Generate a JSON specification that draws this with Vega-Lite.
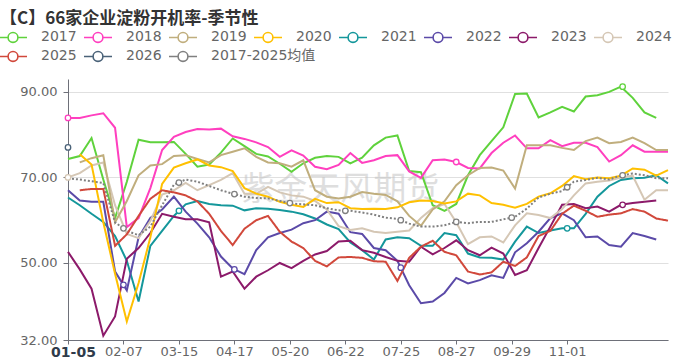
{
  "$schema": "https://vega.github.io/schema/vega-lite/v6.json",
  "width": 600,
  "height": 261,
  "autosize": {"type": "none"},
  "padding": {"left": 68, "top": 79, "right": 25, "bottom": 19},
  "background": "white",
  "title": {
    "text": "【C】66家企业淀粉开机率-季节性",
    "anchor": "start",
    "frame": "group",
    "orient": "top",
    "dx": -68,
    "dy": 18,
    "offset": 11,
    "baseline": "middle",
    "font": "Noto Sans CJK SC",
    "fontSize": 17,
    "fontWeight": "bold",
    "color": "#333333"
  },
  "datasets": {
    "weekly": [
      {"day": 0, "2017": 74.3, "2018": 83.9, "2021": 65.3, "2022": 67.0, "2023": 52.6, "2024": 70.0, "2026": 77.0, "2017-2025均值": 69.8},
      {"day": 7, "2017": 75.0, "2018": 83.9, "2019": 73.5, "2020": 75.4, "2021": 63.5, "2022": 64.6, "2023": 48.5, "2024": 71.0, "2025": 67.0, "2017-2025均值": 69.5},
      {"day": 14, "2017": 79.2, "2018": 84.5, "2019": 74.5, "2020": 73.0, "2021": 61.5, "2022": 64.3, "2023": 44.0, "2024": 72.8, "2025": 67.3, "2017-2025均值": 69.1},
      {"day": 21, "2017": 69.5, "2018": 85.0, "2019": 75.2, "2020": 59.5, "2021": 59.6, "2022": 64.3, "2023": 33.0, "2024": 73.5, "2025": 67.3, "2017-2025均值": 68.7},
      {"day": 28, "2017": 60.5, "2018": 81.6, "2019": 59.5, "2020": 47.5, "2021": 56.3, "2022": 48.0, "2023": 37.5, "2024": 63.5, "2025": 54.0, "2017-2025均值": 59.5},
      {"day": 35, "2017": 69.0, "2018": 58.4, "2019": 64.5, "2020": 36.3, "2021": 50.5, "2022": 43.6, "2023": 51.0, "2024": 56.8, "2025": 56.7, "2017-2025均值": 57.5},
      {"day": 42, "2017": 78.8, "2018": 60.5, "2019": 70.5, "2020": 45.3, "2021": 41.0, "2022": 56.0, "2023": 53.5, "2024": 55.8, "2025": 61.0, "2017-2025均值": 56.5},
      {"day": 49, "2017": 78.2, "2018": 67.5, "2019": 72.8, "2020": 56.0, "2021": 54.0, "2022": 60.5, "2023": 57.0, "2024": 59.8, "2025": 65.0, "2017-2025均值": 58.5},
      {"day": 56, "2017": 78.2, "2018": 76.4, "2019": 73.1, "2020": 68.5, "2021": 57.5, "2022": 62.5, "2023": 61.5, "2024": 66.0, "2025": 67.0, "2017-2025均值": 63.5},
      {"day": 63, "2017": 78.3, "2018": 79.5, "2019": 75.0, "2020": 72.3, "2021": 61.0, "2022": 65.5, "2023": 60.8, "2024": 67.0, "2025": 66.5, "2017-2025均值": 68.3},
      {"day": 70, "2017": 75.5, "2018": 80.6, "2019": 75.2, "2020": 73.3, "2021": 63.7, "2022": 62.0, "2023": 60.2, "2024": 68.7, "2025": 65.8, "2017-2025均值": 69.5},
      {"day": 77, "2017": 72.5, "2018": 81.3, "2019": 74.3, "2020": 74.2, "2021": 64.5, "2022": 59.2, "2023": 60.2, "2024": 67.0, "2025": 64.4, "2017-2025均值": 69.0},
      {"day": 84, "2017": 73.0, "2018": 81.2, "2019": 73.5, "2020": 72.8, "2021": 63.8, "2022": 56.0, "2023": 59.5, "2024": 68.2, "2025": 61.5, "2017-2025均值": 68.0},
      {"day": 91, "2017": 75.8, "2018": 81.4, "2019": 75.2, "2020": 72.4, "2021": 63.5, "2022": 51.5, "2023": 46.8, "2024": 69.4, "2025": 57.5, "2017-2025均值": 67.0},
      {"day": 98, "2017": 79.1, "2018": 79.6, "2019": 76.0, "2020": 71.5, "2021": 63.4, "2022": 48.7, "2023": 48.0, "2024": 71.0, "2025": 54.2, "2017-2025均值": 66.2},
      {"day": 105, "2017": 77.3, "2018": 79.0, "2019": 76.8, "2020": 67.5, "2021": 62.3, "2022": 47.4, "2023": 44.0, "2024": 66.2, "2025": 58.0, "2017-2025均值": 65.5},
      {"day": 112, "2017": 75.5, "2018": 78.2, "2019": 74.8, "2020": 66.2, "2021": 62.8, "2022": 53.0, "2023": 46.8, "2024": 66.2, "2025": 60.0, "2017-2025均值": 65.2},
      {"day": 119, "2017": 74.9, "2018": 77.1, "2019": 73.5, "2020": 65.5, "2021": 62.7, "2022": 56.0, "2023": 48.3, "2024": 67.8, "2025": 61.0, "2017-2025均值": 65.1},
      {"day": 126, "2017": 73.2, "2018": 74.8, "2019": 73.3, "2020": 64.3, "2021": 62.4, "2022": 57.0, "2023": 50.0, "2024": 66.5, "2025": 57.3, "2017-2025均值": 64.5},
      {"day": 133, "2017": 71.3, "2018": 76.3, "2019": 72.5, "2020": 63.6, "2021": 62.0, "2022": 57.8, "2023": 48.8, "2024": 65.8, "2025": 55.0, "2017-2025均值": 63.9},
      {"day": 140, "2017": 73.3, "2018": 75.1, "2019": 74.0, "2020": 63.1, "2021": 61.4, "2022": 59.3, "2023": 50.5, "2024": 65.5, "2025": 53.5, "2017-2025均值": 63.7},
      {"day": 147, "2017": 74.6, "2018": 72.5, "2019": 67.0, "2020": 65.0, "2021": 60.4, "2022": 60.0, "2023": 52.0, "2024": 64.5, "2025": 50.5, "2017-2025均值": 63.5},
      {"day": 154, "2017": 75.0, "2018": 71.9, "2019": 65.5, "2020": 64.0, "2021": 59.0, "2022": 62.0, "2023": 52.8, "2024": 62.5, "2025": 49.2, "2017-2025均值": 62.8},
      {"day": 161, "2017": 74.8, "2018": 72.9, "2019": 65.1, "2020": 64.2, "2021": 57.9, "2022": 61.5, "2023": 55.0, "2024": 58.6, "2025": 51.3, "2017-2025均值": 62.3},
      {"day": 168, "2017": 73.3, "2018": 75.7, "2019": 65.5, "2020": 62.8, "2021": 54.8, "2022": 57.2, "2023": 55.2, "2024": 57.7, "2025": 51.4, "2017-2025均值": 62.2},
      {"day": 175, "2017": 74.6, "2018": 73.4, "2019": 66.6, "2020": 62.6, "2021": 53.0, "2022": 56.8, "2023": 53.0, "2024": 58.1, "2025": 51.2, "2017-2025均值": 61.8},
      {"day": 182, "2017": 77.5, "2018": 74.0, "2019": 66.2, "2020": 62.7, "2021": 50.8, "2022": 53.5, "2023": 52.4, "2024": 57.3, "2025": 50.4, "2017-2025均值": 61.3},
      {"day": 189, "2017": 79.3, "2018": 75.0, "2019": 65.9, "2020": 62.6, "2021": 55.5, "2022": 53.0, "2023": 51.4, "2024": 57.0, "2025": 50.3, "2017-2025均值": 60.6},
      {"day": 196, "2017": 79.8, "2018": 75.2, "2019": 64.4, "2020": 63.0, "2021": 56.0, "2022": 50.5, "2023": 50.5, "2024": 57.3, "2025": 45.8, "2017-2025均值": 60.3},
      {"day": 203, "2017": 71.5, "2018": 71.4, "2019": 61.0, "2020": 64.2, "2021": 55.8, "2022": 44.8, "2023": 50.3, "2024": 57.6, "2025": 51.2, "2017-2025均值": 59.2},
      {"day": 210, "2017": 71.2, "2018": 69.9, "2019": 58.7, "2020": 64.6, "2021": 54.0, "2022": 40.6, "2023": 53.8, "2024": 60.5, "2025": 53.8, "2017-2025均值": 58.5},
      {"day": 217, "2017": 63.5, "2018": 74.0, "2019": 62.5, "2020": 64.5, "2021": 54.0, "2022": 41.0, "2023": 52.0, "2024": 62.8, "2025": 55.2, "2017-2025均值": 58.5},
      {"day": 224, "2017": 62.2, "2018": 74.2, "2019": 64.4, "2020": 63.9, "2021": 57.0, "2022": 43.0, "2023": 53.5, "2024": 63.8, "2025": 52.6, "2017-2025均值": 58.8},
      {"day": 231, "2017": 63.8, "2018": 73.6, "2019": 68.2, "2020": 64.4, "2021": 56.5, "2022": 46.5, "2023": 55.3, "2024": 59.5, "2025": 51.8, "2017-2025均值": 59.6},
      {"day": 238, "2017": 70.5, "2018": 72.2, "2019": 70.5, "2020": 66.2, "2021": 52.2, "2022": 45.2, "2023": 53.0, "2024": 54.4, "2025": 48.0, "2017-2025均值": 59.3},
      {"day": 245, "2017": 75.2, "2018": 72.1, "2019": 72.2, "2020": 65.8, "2021": 51.3, "2022": 46.0, "2023": 51.8, "2024": 56.0, "2025": 47.3, "2017-2025均值": 59.6},
      {"day": 252, "2017": 78.5, "2018": 75.7, "2019": 72.3, "2020": 64.0, "2021": 51.2, "2022": 47.1, "2023": 53.6, "2024": 56.2, "2025": 47.8, "2017-2025均值": 59.6},
      {"day": 259, "2017": 81.7, "2018": 78.1, "2019": 71.6, "2020": 63.6, "2021": 50.8, "2022": 46.5, "2023": 52.2, "2024": 54.8, "2025": 50.3, "2017-2025均值": 60.2},
      {"day": 266, "2017": 89.5, "2018": 79.8, "2019": 67.4, "2020": 62.9, "2021": 55.0, "2022": 52.5, "2023": 47.2, "2024": 58.8, "2025": 49.3, "2017-2025均值": 60.8},
      {"day": 273, "2017": 89.6, "2018": 76.8, "2019": 77.5, "2020": 63.8, "2021": 58.5, "2022": 54.6, "2023": 48.3, "2024": 61.6, "2025": 51.3, "2017-2025均值": 62.7},
      {"day": 280, "2017": 84.0, "2018": 76.8, "2019": 77.5, "2020": 65.5, "2021": 57.0, "2022": 57.3, "2023": 53.5, "2024": 61.2, "2025": 56.3, "2017-2025均值": 65.3},
      {"day": 287, "2017": 85.2, "2018": 78.7, "2019": 77.5, "2020": 66.3, "2021": 57.6, "2022": 60.5, "2023": 58.5, "2024": 60.5, "2025": 57.5, "2017-2025均值": 66.2},
      {"day": 294, "2017": 86.5, "2018": 77.3, "2019": 76.9, "2020": 68.0, "2021": 58.1, "2022": 61.6, "2023": 63.6, "2024": 62.6, "2025": 61.5, "2017-2025均值": 66.8},
      {"day": 301, "2017": 85.4, "2018": 78.1, "2019": 76.4, "2020": 70.3, "2021": 58.1, "2022": 60.0, "2023": 63.8, "2024": 65.8, "2025": 63.4, "2017-2025均值": 69.0},
      {"day": 308, "2017": 88.9, "2018": 78.1, "2019": 78.5, "2020": 69.6, "2021": 61.5, "2022": 56.0, "2023": 62.8, "2024": 68.6, "2025": 62.2, "2017-2025均值": 69.4},
      {"day": 315, "2017": 89.2, "2018": 77.1, "2019": 79.3, "2020": 70.0, "2021": 65.5, "2022": 56.2, "2023": 63.2, "2024": 69.0, "2025": 60.8, "2017-2025均值": 69.9},
      {"day": 322, "2017": 90.0, "2018": 73.7, "2019": 78.0, "2020": 69.8, "2021": 68.0, "2022": 54.2, "2023": 62.0, "2024": 69.3, "2025": 61.3, "2017-2025均值": 69.5},
      {"day": 329, "2017": 91.2, "2018": 75.2, "2019": 78.3, "2020": 70.4, "2021": 69.4, "2022": 53.8, "2023": 63.6, "2024": 70.0, "2025": 61.6, "2017-2025均值": 70.5},
      {"day": 336, "2017": 88.6, "2018": 77.5, "2019": 79.3, "2020": 72.1, "2021": 69.8, "2022": 57.0, "2023": 64.0, "2024": 70.4, "2025": 62.6, "2017-2025均值": 70.9},
      {"day": 343, "2017": 85.2, "2018": 76.0, "2019": 78.0, "2020": 71.8, "2021": 69.9, "2022": 56.3, "2023": 64.3, "2024": 64.8, "2025": 62.0, "2017-2025均值": 70.5},
      {"day": 350, "2017": 83.9, "2018": 76.0, "2019": 76.4, "2020": 70.4, "2021": 70.5, "2022": 55.5, "2023": 64.6, "2024": 67.0, "2025": 60.4, "2017-2025均值": 69.8},
      {"day": 357, "2018": 76.0, "2019": 76.4, "2020": 71.7, "2021": 68.6, "2024": 67.0, "2025": 59.9, "2017-2025均值": 69.8}
    ],
    "markers": [
      {"s": "2018", "day": 0, "v": 83.9},
      {"s": "2024", "day": 0, "v": 70.0},
      {"s": "2026", "day": 0, "v": 77.0},
      {"s": "2022", "day": 33, "v": 44.9},
      {"s": "2017-2025均值", "day": 33, "v": 58.1},
      {"s": "2021", "day": 66, "v": 62.2},
      {"s": "2017-2025均值", "day": 66, "v": 68.8},
      {"s": "2022", "day": 99, "v": 48.5},
      {"s": "2017-2025均值", "day": 99, "v": 66.1},
      {"s": "2017-2025均值", "day": 132, "v": 64.0},
      {"s": "2017-2025均值", "day": 165, "v": 62.2},
      {"s": "2022", "day": 198, "v": 48.9},
      {"s": "2017-2025均值", "day": 198, "v": 60.0},
      {"s": "2018", "day": 231, "v": 73.6},
      {"s": "2017-2025均值", "day": 231, "v": 59.6},
      {"s": "2017-2025均值", "day": 264, "v": 60.6},
      {"s": "2021", "day": 297, "v": 58.1},
      {"s": "2017-2025均值", "day": 297, "v": 67.7},
      {"s": "2017", "day": 330, "v": 91.2},
      {"s": "2017-2025均值", "day": 330, "v": 70.5},
      {"s": "2023", "day": 330, "v": 63.6}
    ]
  },
  "layer": [
    {
      "data": {"values": [{}]},
      "mark": {"type": "text", "text": "紫金天风期货", "font": "Noto Sans CJK SC", "fontSize": 33, "color": "#c4c4c4", "opacity": 0.55},
      "encoding": {
        "x": {"datum": 162, "type": "quantitative"},
        "y": {"datum": 67, "type": "quantitative"}
      }
    },
    {
      "data": {"name": "weekly"},
      "transform": [
        {"fold": ["2017", "2018", "2019", "2020", "2021", "2022", "2023", "2024"], "as": ["s", "v"]},
        {"filter": "isValid(datum.v)"}
      ],
      "mark": {"type": "line", "strokeWidth": 2},
      "encoding": {
        "x": {
          "field": "day", "type": "quantitative",
          "scale": {"domain": [0, 357], "nice": false, "zero": false},
          "axis": {
            "title": null,
            "values": [0, 33, 66, 99, 132, 165, 198, 231, 264, 297],
            "labelExpr": "['01-05','02-07','03-15','04-17','05-20','06-22','07-25','08-27','09-29','11-01'][round(datum.value/33)]",
            "grid": false,
            "domainColor": "#6e7079",
            "tickColor": "#6e7079",
            "tickSize": 4,
            "labelPadding": 1,
            "labelFlush": false,
            "labelOverlap": false,
            "labelFont": "DejaVu Sans",
            "labelFontSize": {"condition": {"test": "datum.value === 0", "value": 14}, "value": 13},
            "labelFontWeight": {"condition": {"test": "datum.value === 0", "value": "bold"}, "value": "normal"},
            "labelColor": {"condition": {"test": "datum.value === 0", "value": "#2f3b4a"}, "value": "#666666"},
            "labelOffset": {"condition": {"test": "datum.value === 0", "value": 5}, "value": 0}
          }
        },
        "y": {
          "field": "v", "type": "quantitative",
          "scale": {"domain": [32, 93], "nice": false, "zero": false},
          "axis": {
            "title": null,
            "values": [32, 40, 50, 59.86, 70, 80, 90, 93],
            "format": ".2f",
            "grid": true,
            "gridColor": "#e0e0e0",
            "domainColor": "#6e7079",
            "tickColor": "#6e7079",
            "tickSize": 5,
            "labelPadding": 6,
            "labelOverlap": false,
            "labelFlush": false,
            "labelFont": "DejaVu Sans",
            "labelFontSize": {"condition": {"test": "datum.value === 59.86", "value": 14}, "value": 13},
            "labelFontWeight": {"condition": {"test": "datum.value === 59.86", "value": "bold"}, "value": "normal"},
            "labelColor": {"condition": {"test": "datum.value === 59.86", "value": "#2f3b4a"}, "value": "#666666"}
          }
        },
        "color": {
          "field": "s", "type": "nominal", "title": null,
          "scale": {
            "domain": ["2017", "2018", "2019", "2020", "2021", "2022", "2023", "2024"],
            "range": ["#5fd23c", "#ff3fbf", "#c0ae7d", "#ffc000", "#14979b", "#5b4aa8", "#8c1a6a", "#d5c7b5"]
          },
          "legend": {"legendX": -69, "legendY": -50}
        }
      }
    },
    {
      "data": {"name": "weekly"},
      "transform": [
        {"fold": ["2025", "2026", "2017-2025均值"], "as": ["s", "v"]},
        {"filter": "isValid(datum.v)"}
      ],
      "mark": {"type": "line", "strokeWidth": 2},
      "encoding": {
        "x": {"field": "day", "type": "quantitative"},
        "y": {"field": "v", "type": "quantitative"},
        "stroke": {
          "field": "s", "type": "nominal", "title": null,
          "scale": {
            "domain": ["2025", "2026", "2017-2025均值"],
            "range": ["#d1483b", "#4a6278", "#808080"]
          },
          "legend": {"legendX": -69, "legendY": -31}
        },
        "strokeDash": {"condition": {"test": "datum.s === '2017-2025均值'", "value": [2, 2]}, "value": [1, 0]}
      }
    },
    {
      "data": {"name": "markers"},
      "transform": [{"filter": "indexof(['2025','2026','2017-2025均值'], datum.s) < 0"}],
      "mark": {"type": "point", "shape": "circle", "filled": false, "fill": "white", "fillOpacity": 1, "size": 30, "strokeWidth": 1.3, "opacity": 1},
      "encoding": {
        "x": {"field": "day", "type": "quantitative"},
        "y": {"field": "v", "type": "quantitative"},
        "color": {"field": "s", "type": "nominal", "title": null}
      }
    },
    {
      "data": {"name": "markers"},
      "transform": [{"filter": "indexof(['2025','2026','2017-2025均值'], datum.s) >= 0"}],
      "mark": {"type": "point", "shape": "circle", "filled": false, "fill": "white", "fillOpacity": 1, "size": 30, "strokeWidth": 1.3, "opacity": 1},
      "encoding": {
        "x": {"field": "day", "type": "quantitative"},
        "y": {"field": "v", "type": "quantitative"},
        "stroke": {"field": "s", "type": "nominal", "title": null}
      }
    }
  ],
  "config": {
    "view": {"stroke": null},
    "font": "DejaVu Sans",
    "legend": {
      "orient": "none",
      "direction": "horizontal",
      "symbolType": "M-2,0L-0.7,0M0.7,0L2,0M-0.7,0A0.7,0.7,0,1,1,0.7,0A0.7,0.7,0,1,1,-0.7,0",
      "symbolSize": 196,
      "symbolStrokeWidth": 1.6,
      "symbolOffset": 6,
      "symbolFillColor": "white",
      "labelOffset": 20,
      "labelFont": "DejaVu Sans, Noto Sans CJK SC",
      "labelFontSize": 14,
      "labelColor": "#666666",
      "columnPadding": 3,
      "rowPadding": 3,
      "padding": 0
    }
  }
}
